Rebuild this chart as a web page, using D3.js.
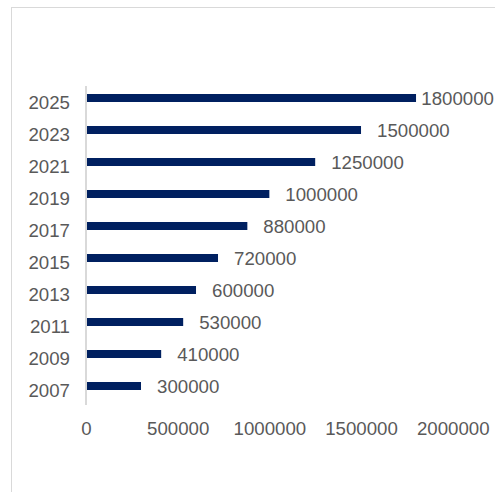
<!DOCTYPE html>
<html>
<head>
<meta charset="utf-8">
<script src="https://cdn.jsdelivr.net/npm/d3@7"></script>
<style>
  html, body { margin: 0; padding: 0; background: #fff; overflow: hidden; }
  svg { display: block; font-family: "Liberation Sans", Arial, sans-serif; }
</style>
</head>
<body>
<svg id="chart" width="495" height="492"></svg>
<script>
// Years shown on the vertical axis (bottom to top)
const years = ["2007", "2009", "2011", "2013", "2015", "2017", "2019", "2021", "2023", "2025"];
// Value for each year
const values = [300000, 410000, 530000, 600000, 720000, 880000, 1000000, 1250000, 1500000, 1800000];
// Horizontal axis ticks
const xTicks = [0, 500000, 1000000, 1500000, 2000000];

const W = 495, H = 492;
const svg = d3.select("#chart");

const barColor = "#002060";
const textColor = "#595959";
const lineColor = "#d9d9d9";
const fontFamily = "'Liberation Sans', Arial, sans-serif";
const fontSize = 18.67;

// Outer frame of the chart area
svg.append("rect")
  .attr("x", 11.5).attr("y", 7.5)
  .attr("width", 500).attr("height", 500)
  .attr("fill", "none")
  .attr("stroke", lineColor)
  .attr("stroke-width", 1);

const x = d3.scaleLinear().domain([0, 2000000]).range([86, 452.7]);
const y = d3.scaleBand()
  .domain(years.slice().reverse())
  .range([82, 402])
  .paddingInner(0.75)
  .paddingOuter(0.375);

const rows = years.map((yr, i) => ({ yr, v: values[i] }));

// Bars
svg.append("g").selectAll("rect")
  .data(rows)
  .join("rect")
  .attr("x", x(0) + 1)
  .attr("y", d => y(d.yr))
  .attr("width", d => x(d.v) - x(0) - 1)
  .attr("height", y.bandwidth())
  .attr("fill", barColor);

// Year labels
const yAxis = svg.append("g")
  .attr("transform", `translate(${x(0)},0)`)
  .call(d3.axisLeft(y).tickSize(0).tickPadding(16));
yAxis.select(".domain").remove();
yAxis.selectAll("text")
  .attr("font-size", fontSize)
  .attr("font-family", fontFamily)
  .attr("fill", textColor)
  .attr("dy", "0.57em");

// Vertical axis line
svg.append("line")
  .attr("x1", x(0)).attr("x2", x(0))
  .attr("y1", 86).attr("y2", 405)
  .attr("stroke", lineColor)
  .attr("stroke-width", 2);

// Horizontal axis labels (no line)
const xAxis = svg.append("g")
  .attr("transform", "translate(0,428)")
  .call(d3.axisBottom(x).tickValues(xTicks).tickSize(0).tickPadding(0).tickFormat(d3.format("d")));
xAxis.select(".domain").remove();
xAxis.selectAll("text")
  .attr("font-size", fontSize)
  .attr("font-family", fontFamily)
  .attr("fill", textColor)
  .attr("dy", "0.35em");

// Value labels to the right of each bar, pulled left where they would run off the edge
svg.append("g").selectAll("text")
  .data(rows)
  .join("text")
  .attr("y", d => y(d.yr) + y.bandwidth() / 2)
  .attr("dy", "0.36em")
  .attr("font-size", fontSize)
  .attr("font-family", fontFamily)
  .attr("fill", textColor)
  .text(d => d3.format("d")(d.v))
  .attr("x", function (d) {
    const w = this.getComputedTextLength();
    return Math.min(x(d.v) + 16, W - 1 - w);
  });
</script>
</body>
</html>
